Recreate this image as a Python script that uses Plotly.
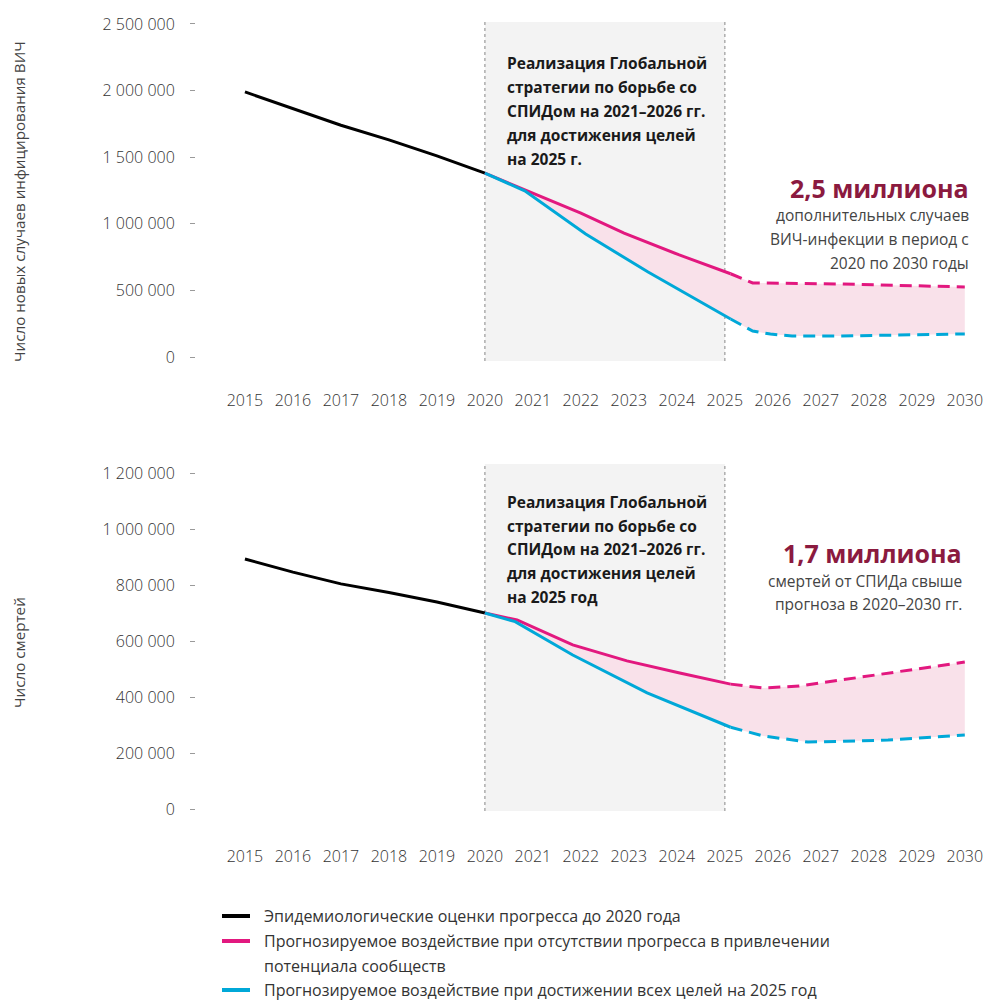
import plotly.graph_objects as go

# the page's default 8px body margin is removed after plotting (see post_script)
OFF = 0
FW, FH = 987, 1001

# ---------------- data ----------------
x_ticks = list(range(2015, 2031))
years_hist = [2015, 2016, 2017, 2018, 2019, 2020]

# Top panel: new HIV infections
inf_hist = [1990000, 1865000, 1740000, 1630000, 1510000, 1380000]
inf_nocomm_x = [2020, 2020.83, 2022.0, 2022.9, 2024.05, 2025.12]
inf_nocomm = [1380000, 1258000, 1080000, 930000, 766000, 625000]
inf_nocomm_dash_x = [2025.12, 2025.58, 2027.4, 2030]
inf_nocomm_dash = [625000, 556000, 548000, 526000]
inf_target_x = [2020, 2020.83, 2022.1, 2023.4, 2025.12]
inf_target = [1380000, 1248000, 923000, 638000, 285000]
inf_target_dash_x = [2025.12, 2025.58, 2025.95, 2026.4, 2027.4, 2030]
inf_target_dash = [285000, 195000, 172000, 158000, 158000, 173000]
inf_yticks = [0, 500000, 1000000, 1500000, 2000000, 2500000]

# Bottom panel: AIDS-related deaths
dth_hist = [893000, 846000, 804000, 773000, 739000, 700000]
dth_nocomm_x = [2020, 2020.67, 2021.83, 2022.96, 2024.06, 2025.12]
dth_nocomm = [700000, 675000, 586000, 529000, 486000, 446000]
dth_nocomm_dash_x = [2025.12, 2025.8, 2026.55, 2027.0, 2030]
dth_nocomm_dash = [446000, 432000, 439000, 450000, 525000]
dth_target_x = [2020, 2020.63, 2021.83, 2023.38, 2025.12]
dth_target = [700000, 669000, 550000, 415000, 292000]
dth_target_dash_x = [2025.12, 2025.8, 2026.73, 2028.4, 2030]
dth_target_dash = [292000, 261000, 239000, 246000, 264000]
dth_yticks = [0, 200000, 400000, 600000, 800000, 1000000, 1200000]

# ---------------- style ----------------
BLACK = "#000000"
PINK = "#e2187f"
CYAN = "#00a8d8"
FILL = "rgba(249,225,234,1)"
GREYBOX = "#f3f3f3"
CRIMSON = "#8b1a3f"
FONT = "Open Sans"


def px(x):
    return (x - OFF) / FW


def py(y):
    return 1 - (y - OFF) / FH


fig = go.Figure()


def add_panel(xa, ya, hist, nc_x, nc, ncd_x, ncd, tg_x, tg, tgd_x, tgd):
    # band between the two projections
    bx = nc_x + ncd_x[1:] + list(reversed(tg_x + tgd_x[1:]))
    by = nc + ncd[1:] + list(reversed(tg + tgd[1:]))
    fig.add_trace(go.Scatter(x=bx, y=by, fill="toself", fillcolor=FILL,
                             line=dict(width=0), mode="lines", hoverinfo="skip",
                             xaxis=xa, yaxis=ya, showlegend=False))
    fig.add_trace(go.Scatter(x=years_hist, y=hist, mode="lines",
                             line=dict(color=BLACK, width=3),
                             xaxis=xa, yaxis=ya, showlegend=False))
    fig.add_trace(go.Scatter(x=nc_x, y=nc, mode="lines",
                             line=dict(color=PINK, width=3),
                             xaxis=xa, yaxis=ya, showlegend=False))
    fig.add_trace(go.Scatter(x=ncd_x, y=ncd, mode="lines",
                             line=dict(color=PINK, width=3, dash="12px,7px"),
                             xaxis=xa, yaxis=ya, showlegend=False))
    fig.add_trace(go.Scatter(x=tg_x, y=tg, mode="lines",
                             line=dict(color=CYAN, width=3),
                             xaxis=xa, yaxis=ya, showlegend=False))
    fig.add_trace(go.Scatter(x=tgd_x, y=tgd, mode="lines",
                             line=dict(color=CYAN, width=3, dash="12px,7px"),
                             xaxis=xa, yaxis=ya, showlegend=False))


add_panel("x", "y", inf_hist, inf_nocomm_x, inf_nocomm, inf_nocomm_dash_x, inf_nocomm_dash,
          inf_target_x, inf_target, inf_target_dash_x, inf_target_dash)
add_panel("x2", "y2", dth_hist, dth_nocomm_x, dth_nocomm, dth_nocomm_dash_x, dth_nocomm_dash,
          dth_target_x, dth_target, dth_target_dash_x, dth_target_dash)

# shaded strategy period + dotted borders
shapes = []
for xr, yr, y0, y1 in [("x", "y", -30000, 2515000), ("x2", "y2", -7000, 1232000)]:
    shapes.append(dict(type="rect", xref=xr, yref=yr, x0=2020, x1=2025, y0=y0, y1=y1,
                       fillcolor=GREYBOX, line=dict(width=0), layer="below"))
    for xv in (2020, 2025):
        shapes.append(dict(type="line", xref=xr, yref=yr, x0=xv, x1=xv, y0=y0, y1=y1,
                           line=dict(color="#9a9a9a", width=1.2, dash="dot"), layer="below"))

annotations = []


def txt(x, y, text, size, color, bold=False, anchor="left"):
    annotations.append(dict(xref="paper", yref="paper", x=px(x), y=py(y), text=text,
                            showarrow=False, xanchor=anchor, yanchor="middle",
                            font=dict(family=FONT, size=size, color=color,
                                      weight="bold" if bold else "normal"),
                            borderpad=0))


box_top = ["Реализация Глобальной", "стратегии по борьбе со", "СПИДом на 2021–2026 гг.",
           "для достижения целей", "на 2025 г."]
box_bot = ["Реализация Глобальной", "стратегии по борьбе со", "СПИДом на 2021–2026 гг.",
           "для достижения целей", "на 2025 год"]
for line, yy in zip(box_top, [63, 87, 111, 135, 159]):
    txt(506, yy, line, 15.5, "#1a1a1a", bold=True)
for line, yy in zip(box_bot, [502, 526, 549, 573, 597]):
    txt(506, yy, line, 15.5, "#1a1a1a", bold=True)

txt(970, 188, "2,5 миллиона", 25, CRIMSON, bold=True, anchor="right")
for line, yy in zip(["дополнительных случаев", "ВИЧ-инфекции в период с", "2020 по 2030 годы"],
                    [215, 239, 263]):
    txt(970, yy, line, 15.5, "#444444", anchor="right")
txt(963, 553, "1,7 миллиона", 25, CRIMSON, bold=True, anchor="right")
for line, yy in zip(["смертей от СПИДа свыше", "прогноза в 2020–2030 гг."], [581, 604]):
    txt(963, yy, line, 15.5, "#444444", anchor="right")

# axis titles
annotations.append(dict(xref="paper", yref="paper", x=px(19), y=py(202),
                        text="Число новых случаев инфицирования ВИЧ", textangle=-90,
                        showarrow=False, xanchor="center", yanchor="middle",
                        font=dict(family=FONT, size=15.2, color="#444444")))
annotations.append(dict(xref="paper", yref="paper", x=px(19), y=py(653),
                        text="Число смертей", textangle=-90,
                        showarrow=False, xanchor="center", yanchor="middle",
                        font=dict(family=FONT, size=15.2, color="#444444")))

# legend
legend_items = [(BLACK, 916, ["Эпидемиологические оценки прогресса до 2020 года"]),
                (PINK, 941, ["Прогнозируемое воздействие при отсутствии прогресса в привлечении",
                             "потенциала сообществ"]),
                (CYAN, 990, ["Прогнозируемое воздействие при достижении всех целей на 2025 год"])]
for color, yy, lines in legend_items:
    shapes.append(dict(type="line", xref="paper", yref="paper", x0=px(222), x1=px(250),
                       y0=py(yy), y1=py(yy), line=dict(color=color, width=4)))
    for i, line in enumerate(lines):
        txt(263, yy + 24.5 * i, line, 16, "#333333")

tickfont = dict(family=FONT, size=16, color="#333333", weight=300)
xcommon = dict(domain=[px(196), px(984)], range=[2013.98, 2030.4], tickvals=x_ticks,
               ticks="", showline=False, showgrid=False, zeroline=False,
               tickfont=tickfont, ticklabelstandoff=4, fixedrange=True)
ycommon = dict(ticks="outside", ticklen=5, tickcolor="#9a9a9a", tickwidth=1,
               showline=False, showgrid=False, zeroline=False, tickformat=",d",
               tickfont=tickfont, ticklabelstandoff=12, fixedrange=True)

fig.update_layout(
    width=FW, height=FH,
    margin=dict(l=0, r=0, t=0, b=0),
    paper_bgcolor="white", plot_bgcolor="white",
    separators=", ",
    showlegend=False,
    xaxis=dict(anchor="y", **xcommon),
    xaxis2=dict(anchor="y2", **xcommon),
    yaxis=dict(anchor="x", domain=[py(385), py(14)], range=[-210200, 2575000],
               tickvals=inf_yticks, **ycommon),
    yaxis2=dict(anchor="x2", domain=[py(841), py(455)], range=[-114300, 1264300],
                tickvals=dth_yticks, **ycommon),
    shapes=shapes,
    annotations=annotations,
)

fig.write_html(
    "out.html",
    config={"displayModeBar": False},
    post_script="document.body.style.margin='0';document.body.style.overflow='hidden';"
                "document.documentElement.style.overflow='hidden';",
)
